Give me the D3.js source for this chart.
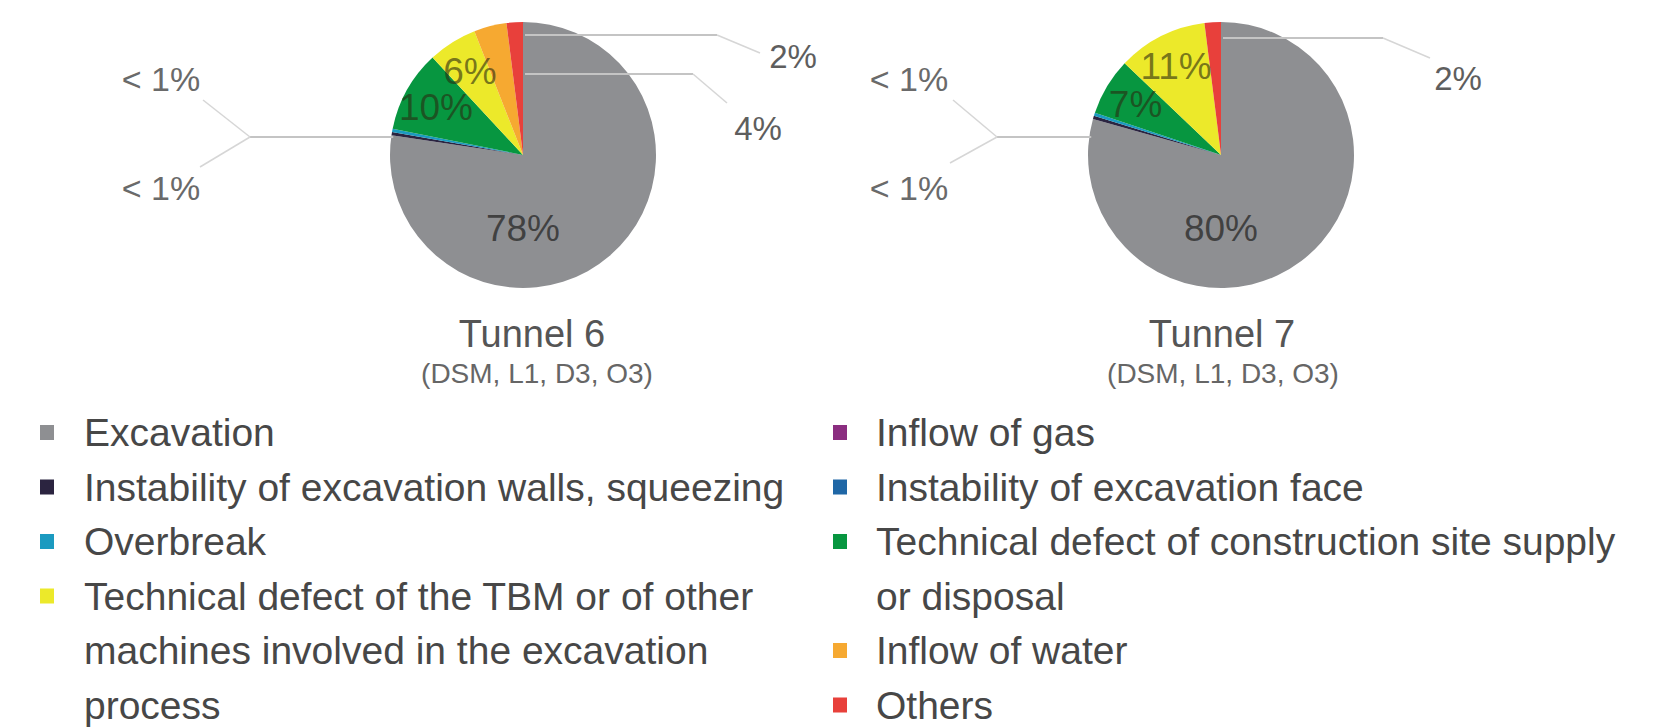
<!DOCTYPE html>
<html>
<head>
<meta charset="utf-8">
<script src="https://cdn.jsdelivr.net/npm/d3@7/dist/d3.min.js"></script>
<style>
  html, body { margin: 0; padding: 0; background: #ffffff; }
  svg { display: block; }
  text { font-family: "Liberation Sans", Arial, sans-serif; }
</style>
</head>
<body>
<svg id="chart" width="1657" height="728"></svg>
<script>
// ---------------- DATA ----------------
const categories = [
  "Excavation",
  "Instability of excavation walls, squeezing",
  "Overbreak",
  "Technical defect of the TBM or of other machines involved in the excavation process",
  "Inflow of gas",
  "Instability of excavation face",
  "Technical defect of construction site supply or disposal",
  "Inflow of water",
  "Others"
];
const legendLines = [
  ["Excavation"],
  ["Instability of excavation walls, squeezing"],
  ["Overbreak"],
  ["Technical defect of the TBM or of other", "machines involved in the excavation", "process"],
  ["Inflow of gas"],
  ["Instability of excavation face"],
  ["Technical defect of construction site supply", "or disposal"],
  ["Inflow of water"],
  ["Others"]
];
const categoryColors = ["#8e8f92", "#2b2440", "#1b9ac0", "#ece92a", "#8b2d80", "#1f67a6", "#079640", "#f6a931", "#e8403b"];

// order of the slices clockwise from 12 o'clock (indices into categories)
const sliceOrder = [0, 1, 2, 6, 3, 7, 8, 4, 5];

const tunnelNames = ["Tunnel 6", "Tunnel 7"];
const tunnelSubtitles = ["(DSM, L1, D3, O3)", "(DSM, L1, D3, O3)"];
const tunnel6Values = [78, 0.4, 0.4, 6, 0, 0, 10, 4, 2];
const tunnel7Values = [80, 0.4, 0.4, 11, 0, 0, 7, 0, 2];
const tunnel6Labels = ["78%", "< 1%", "< 1%", "6%", "", "", "10%", "4%", "2%"];
const tunnel7Labels = ["80%", "< 1%", "< 1%", "11%", "", "", "7%", "", "2%"];

// ---------------- LAYOUT ----------------
const svg = d3.select("#chart");
const R = 133;
const pies = [
  { values: tunnel6Values, labels: tunnel6Labels, cx: 523, cy: 155, titleDx: 9, subDx: 14,
    leftY: -18, leftElbow: -273, leftUp: [-320, -55], leftDown: [-323, 12], leftLabelX: -362, leftLabelY: [-76, 33],
    right: [
      { cat: 8, y: -120, elbowX: 194, end: [237, -102], label: [270, -99] },
      { cat: 7, y: -81, elbowX: 170, end: [204, -52], label: [235, -27] }
    ] },
  { values: tunnel7Values, labels: tunnel7Labels, cx: 1221, cy: 155, titleDx: 1, subDx: 2,
    leftY: -18, leftElbow: -224, leftUp: [-268, -55], leftDown: [-271, 8], leftLabelX: -312, leftLabelY: [-76, 33],
    right: [
      { cat: 8, y: -117, elbowX: 162, end: [209, -97], label: [237, -77] }
    ] }
];

const pieGen = d3.pie().sort(null).value(d => d.value);
const arcGen = d3.arc().innerRadius(0).outerRadius(R);
const labelArc = d3.arc().innerRadius(R * 0.75).outerRadius(R * 0.75);

pies.forEach((p, pi) => {
  const data = sliceOrder.map(ci => ({ cat: ci, value: p.values[ci], label: p.labels[ci] }));
  const arcs = pieGen(data);
  const g = svg.append("g").attr("transform", `translate(${p.cx},${p.cy})`);

  g.selectAll("path.slice")
    .data(arcs)
    .join("path")
    .attr("class", "slice")
    .attr("d", arcGen)
    .attr("fill", d => categoryColors[d.data.cat]);

  // inner labels (slices >= 5%)
  const maxVal = d3.max(data, d => d.value);
  arcs.filter(d => d.data.value >= 5).forEach(d => {
    const pos = d.data.value === maxVal ? [0, R * 0.55] : labelArc.centroid(d);
    g.append("text")
      .attr("x", pos[0]).attr("y", pos[1])
      .attr("dy", "0.36em")
      .attr("text-anchor", "middle")
      .attr("font-size", 37)
      .attr("fill", d.data.value === maxVal ? "#333" : "#2a2a10")
      .attr("fill-opacity", d.data.value === maxVal ? 0.85 : 0.6)
      .text(d.data.label);
  });

  // left leader (two tiny slices)
  const tiny = arcs.filter(d => d.data.value > 0 && d.data.value < 1);
  const ly = p.leftY;
  const lx = -Math.sqrt(R * R - ly * ly);
  g.append("line")
    .attr("x1", lx + 2).attr("y1", ly)
    .attr("x2", p.leftElbow).attr("y2", ly)
    .attr("stroke", "#c4c4c4").attr("stroke-width", 2.2);
  [p.leftUp, p.leftDown].forEach(e => {
    g.append("line")
      .attr("x1", p.leftElbow).attr("y1", ly)
      .attr("x2", e[0]).attr("y2", e[1])
      .attr("stroke", "#d6d6d6").attr("stroke-width", 1.5);
  });
  tiny.forEach((d, i) => {
    g.append("text")
      .attr("x", p.leftLabelX).attr("y", p.leftLabelY[i])
      .attr("dy", "0.36em")
      .attr("text-anchor", "middle")
      .attr("font-size", 34)
      .attr("fill", "#6a6a6a")
      .text(d.data.label);
  });

  // right leaders
  p.right.forEach(r => {
    const d = arcs.find(a => a.data.cat === r.cat);
    g.append("line")
      .attr("x1", 2).attr("y1", r.y)
      .attr("x2", r.elbowX).attr("y2", r.y)
      .attr("stroke", "#c4c4c4").attr("stroke-width", 2);
    g.append("line")
      .attr("x1", r.elbowX).attr("y1", r.y)
      .attr("x2", r.end[0]).attr("y2", r.end[1])
      .attr("stroke", "#d6d6d6").attr("stroke-width", 1.5);
    g.append("text")
      .attr("x", r.label[0]).attr("y", r.label[1])
      .attr("dy", "0.36em")
      .attr("text-anchor", "middle")
      .attr("font-size", 33)
      .attr("fill", "#5e5e5e")
      .text(d.data.label);
  });

  // titles
  svg.append("text")
    .attr("x", p.cx + p.titleDx).attr("y", 347)
    .attr("text-anchor", "middle")
    .attr("font-size", 38)
    .attr("fill", "#555")
    .text(tunnelNames[pi]);
  svg.append("text")
    .attr("x", p.cx + p.subDx).attr("y", 383)
    .attr("text-anchor", "middle")
    .attr("font-size", 28)
    .attr("fill", "#666")
    .text(tunnelSubtitles[pi]);
});

// ---------------- LEGEND ----------------
const rowY = d3.scaleLinear().domain([0, 1]).range([432, 486.5]);
const columns = [
  { items: [0, 1, 2, 3], sq: 40, tx: 84 },
  { items: [4, 5, 6, 7, 8], sq: 833, tx: 876 }
];
columns.forEach(col => {
  let row = 0;
  col.items.forEach(ci => {
    const y = rowY(row);
    svg.append("rect")
      .attr("x", col.sq).attr("y", y - 7)
      .attr("width", 14).attr("height", 15)
      .attr("fill", categoryColors[ci]);
    legendLines[ci].forEach((line, li) => {
      svg.append("text")
        .attr("x", col.tx).attr("y", rowY(row + li))
        .attr("dy", "0.36em")
        .attr("font-size", 39)
        .attr("fill", "#474747")
        .text(line);
    });
    row += legendLines[ci].length;
  });
});
</script>
</body>
</html>
